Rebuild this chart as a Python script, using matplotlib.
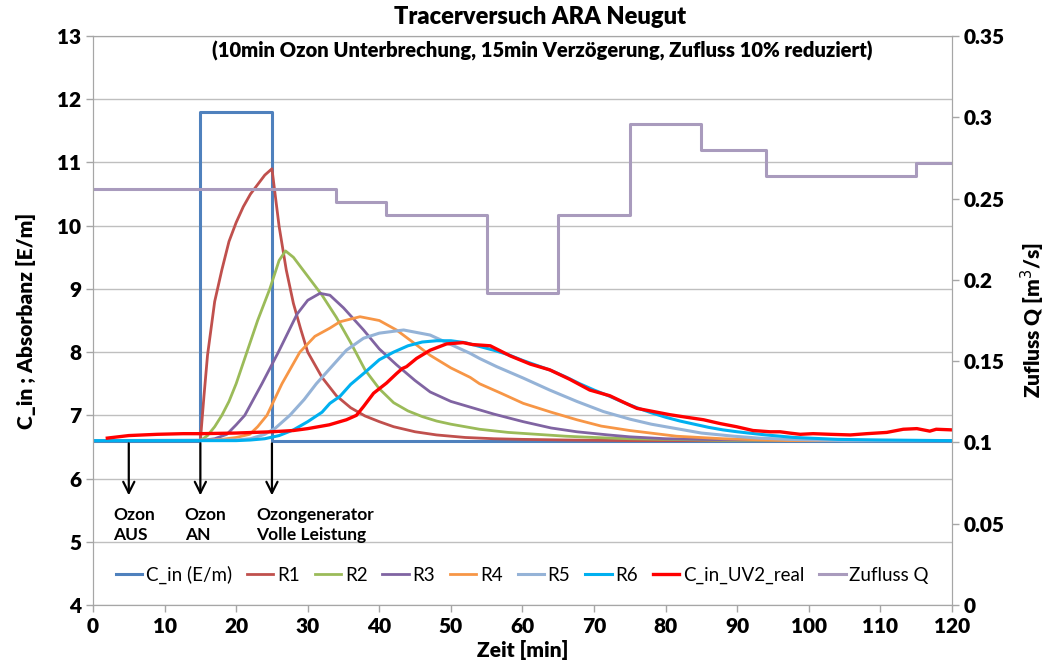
import numpy as np
import matplotlib
matplotlib.use("Agg")
import matplotlib.pyplot as plt

plt.rcParams['font.family'] = ['Lato', 'DejaVu Sans']

# --- data ---
c_in_t = [0, 15, 25, 120]
c_in_val = [6.6, 11.8, 6.6, 6.6]

r1_t = [0, 15, 15.5, 16, 17, 18, 19, 20, 21, 22, 23, 24, 25, 26, 27, 28, 29, 30, 31, 32, 34, 36, 38,
        40, 42, 45, 48, 52, 56, 60, 66, 75, 120]
r1_val = [6.6, 6.6, 7.3, 7.95, 8.8, 9.3, 9.75, 10.05, 10.3, 10.5, 10.65, 10.8, 10.9, 9.99, 9.3, 8.77,
          8.37, 8.0, 7.8, 7.6, 7.31, 7.12, 6.99, 6.9, 6.82, 6.74, 6.69, 6.65, 6.63, 6.62, 6.61, 6.6, 6.6]

r2_t = [0, 15, 16, 17, 18, 19, 20, 21.5, 23, 24.7, 26, 26.9, 28, 30, 32, 34, 36, 38, 40, 42, 44, 46,
        48, 50, 52, 54, 58, 62, 66, 70, 75, 80, 90, 120]
r2_val = [6.6, 6.6, 6.68, 6.82, 7.0, 7.22, 7.5, 8.0, 8.5, 9.0, 9.45, 9.6, 9.5, 9.2, 8.9, 8.55, 8.15,
          7.72, 7.42, 7.2, 7.07, 6.98, 6.91, 6.86, 6.82, 6.78, 6.73, 6.7, 6.67, 6.65, 6.63, 6.62, 6.6, 6.6]

r3_t = [0, 15, 17, 18.7, 20, 21.2, 23.6, 25.9, 28.5, 30, 31.7, 33.1, 35, 37.8, 40, 42.4, 45, 47.1, 50,
        52.7, 56, 60.1, 64, 67.6, 72, 75, 80, 90, 120]
r3_val = [6.6, 6.6, 6.63, 6.7, 6.85, 7.0, 7.5, 8.0, 8.6, 8.82, 8.93, 8.9, 8.7, 8.35, 8.05, 7.8, 7.55,
          7.37, 7.22, 7.13, 7.02, 6.9, 6.8, 6.74, 6.69, 6.66, 6.63, 6.61, 6.6]

r4_t = [0, 15, 18, 20, 21.9, 23, 24.3, 26.4, 28.9, 31, 33.1, 34.5, 37.3, 40, 42.4, 45, 47.1, 50, 52.7,
        54, 57, 60.1, 64, 67.6, 71, 75, 81.5, 88, 97, 120]
r4_val = [6.6, 6.6, 6.62, 6.65, 6.7, 6.82, 7.0, 7.5, 8.0, 8.25, 8.38, 8.48, 8.56, 8.5, 8.35, 8.13,
          7.95, 7.75, 7.6, 7.5, 7.35, 7.19, 7.05, 6.93, 6.83, 6.76, 6.67, 6.63, 6.6, 6.6]

r5_t = [0, 20, 22, 24, 25.5, 27.5, 29.5, 31.2, 33.1, 35.4, 37.8, 40, 43.4, 47.1, 50, 52.7, 54, 56.4,
        60.1, 63.8, 67.6, 71.3, 75, 78, 81.5, 85, 89.5, 93, 97.3, 105, 120]
r5_val = [6.6, 6.61, 6.63, 6.7, 6.8, 7.0, 7.25, 7.5, 7.74, 8.03, 8.22, 8.3, 8.35, 8.27, 8.12, 7.98,
          7.9, 7.77, 7.59, 7.4, 7.22, 7.06, 6.94, 6.86, 6.79, 6.72, 6.67, 6.64, 6.62, 6.6, 6.6]

r6_t = [0, 20, 22, 24, 26, 28, 30, 32, 33.1, 34.5, 36, 38, 40, 42, 44, 46, 48, 50, 52, 54, 56, 58, 60,
        62, 64, 66, 68, 70, 72, 74, 76, 78, 80, 82, 84, 86, 88, 90, 94, 98, 104, 110, 120]
r6_val = [6.6, 6.6, 6.61, 6.63, 6.68, 6.77, 6.9, 7.05, 7.19, 7.3, 7.49, 7.68, 7.88, 8.0, 8.1, 8.16,
          8.18, 8.18, 8.15, 8.09, 8.03, 7.96, 7.87, 7.79, 7.71, 7.61, 7.5, 7.4, 7.31, 7.21, 7.12, 7.04,
          6.97, 6.91, 6.86, 6.81, 6.77, 6.74, 6.69, 6.65, 6.62, 6.61, 6.6]

real_t = [2, 5, 9, 12.6, 15, 20, 25, 28, 30, 33, 35.4, 36.8, 37.8, 39.2, 41, 42.4, 43.2, 43.8, 45.2,
          47.1, 49.4, 51.7, 53, 55.5, 58.3, 61.1, 63.8, 66.6, 69.4, 72.2, 75, 76, 78.3, 80.6, 82.9,
          85.3, 87.6, 89.9, 92.2, 94.6, 96, 97.3, 98.8, 100.6, 103, 105.8, 108.1, 110.9, 113.2, 115.1,
          116.9, 117.8, 120]
real_val = [6.64, 6.68, 6.70, 6.71, 6.71, 6.72, 6.74, 6.76, 6.79, 6.85, 6.93, 7.0, 7.14, 7.35, 7.51,
            7.66, 7.74, 7.77, 7.9, 8.03, 8.13, 8.15, 8.12, 8.1, 7.94, 7.81, 7.72, 7.57, 7.4, 7.31,
            7.16, 7.11, 7.06, 7.01, 6.97, 6.93, 6.87, 6.82, 6.76, 6.74, 6.74, 6.72, 6.70, 6.71, 6.70,
            6.69, 6.71, 6.73, 6.78, 6.79, 6.75, 6.78, 6.77]

q_t = [0, 34, 41, 55, 65, 75, 85, 94, 115, 120]
q_val = [0.256, 0.248, 0.240, 0.192, 0.240, 0.296, 0.280, 0.264, 0.272, 0.272]

q_ticks = [0, 0.05, 0.1, 0.15, 0.2, 0.25, 0.3, 0.35]
q_tick_labels = ['0', '0.05', '0.1', '0.15', '0.2', '0.25', '0.3', '0.35']

events = [(5, 'Ozon\nAUS'), (15, 'Ozon\nAN'), (25, 'Ozongenerator\nVolle Leistung')]

# --- figure ---
fig = plt.figure(figsize=(10.46, 6.68), dpi=100)
ax = fig.add_axes([0.0889, 0.0943, 0.8212, 0.8518])
ax2 = ax.twinx()

ax.step(c_in_t, c_in_val, where='post', color='#4F81BD', lw=2.2, label='C_in (E/m)')
ax.plot(r1_t, r1_val, color='#C0504D', lw=2.0, label='R1')
ax.plot(r2_t, r2_val, color='#9BBB59', lw=2.0, label='R2')
ax.plot(r3_t, r3_val, color='#8064A2', lw=2.0, label='R3')
ax.plot(r4_t, r4_val, color='#F79646', lw=2.0, label='R4')
ax.plot(r5_t, r5_val, color='#95B3D7', lw=2.2, label='R5')
ax.plot(r6_t, r6_val, color='#00B0F0', lw=2.2, label='R6')
ax.plot(real_t, real_val, color='#FF0000', lw=2.4, label='C_in_UV2_real')
ax2.step(q_t, q_val, where='post', color='#A99BBD', lw=2.2, label='Zufluss Q')

ax.set_xlim(0, 120)
ax.set_ylim(4, 13)
ax2.set_ylim(0, 0.35)
ax.set_xticks(np.arange(0, 121, 10))
ax.set_yticks(np.arange(4, 14, 1))
ax2.set_yticks(q_ticks)
ax2.set_yticklabels(q_tick_labels)

ax.grid(axis='y', color='#BFBFBF', lw=1)
ax.set_axisbelow(True)
for a in (ax, ax2):
    for s in a.spines.values():
        s.set_color('#A6A6A6')
    a.tick_params(colors='#A6A6A6', labelcolor='black', length=5, width=1)
    for lbl in a.get_xticklabels() + a.get_yticklabels():
        lbl.set_fontsize(15)
        lbl.set_fontweight('heavy')

ax.set_xlabel('Zeit [min]', fontsize=15, fontweight='heavy', labelpad=3)
ax.set_ylabel('C_in ; Absorbanz [E/m]', fontsize=15, fontweight='heavy', labelpad=15)
ax2.set_ylabel('Zufluss Q [m$^3$/s]', fontsize=15, fontweight='heavy', labelpad=10)

fig.text(0.516, 0.974, 'Tracerversuch ARA Neugut', ha='center', va='center',
         fontsize=17, fontweight='heavy')
fig.text(0.518, 0.924, '(10min Ozon Unterbrechung, 15min Verzögerung, Zufluss 10% reduziert)',
         ha='center', va='center', fontsize=14.5, fontweight='heavy')

for t0, txt in events:
    ax.annotate('', xy=(t0, 5.69), xytext=(t0, 6.6),
                arrowprops=dict(arrowstyle='->', color='black', lw=1.6, mutation_scale=20))
    ax.text(t0 - 2.2, 5.55, txt, ha='left', va='top', fontsize=12.5, fontweight='bold',
            linespacing=1.3)

h1, l1 = ax.get_legend_handles_labels()
h2, l2 = ax2.get_legend_handles_labels()
ax.legend(h1 + h2, l1 + l2, loc='center', bbox_to_anchor=(0.5, 0.053), ncol=9, frameon=False,
          fontsize=13.5, handlelength=1.4, handletextpad=0.2, columnspacing=0.8)

fig.savefig('out.png', dpi=100)
